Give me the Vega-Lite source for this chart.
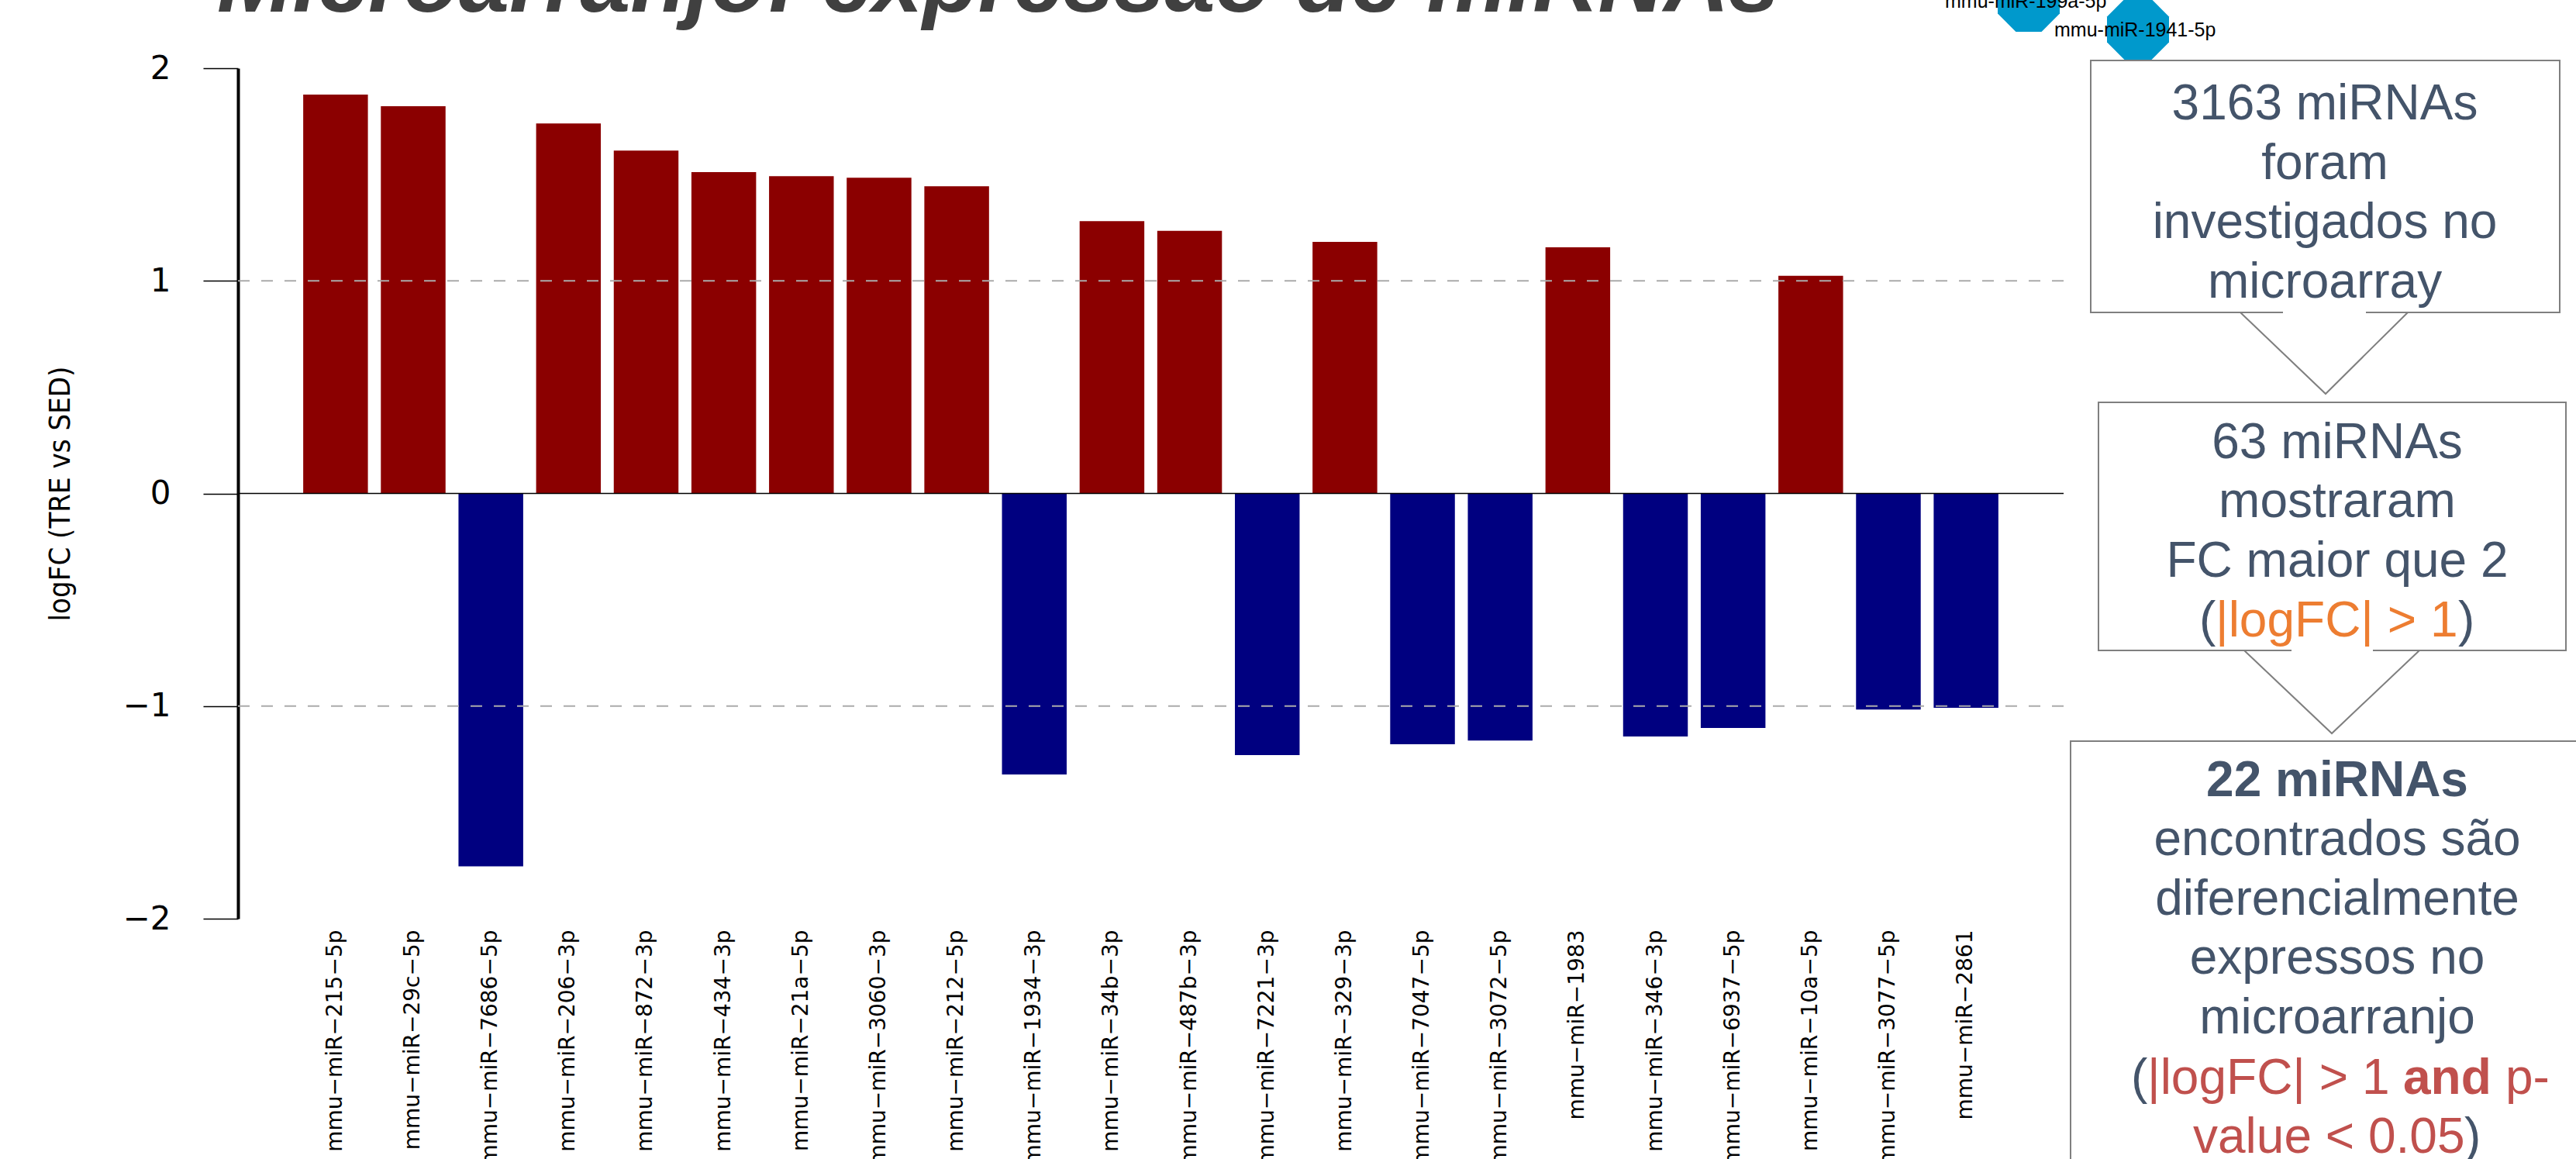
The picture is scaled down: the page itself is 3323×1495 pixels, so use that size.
{
  "$schema": "https://vega.github.io/schema/vega-lite/v6.json",
  "width": 2355,
  "height": 1097,
  "autosize": {"type": "none"},
  "padding": {"left": 307, "top": 88, "right": 661, "bottom": 310},
  "background": "white",
  "config": {"view": {"stroke": null}, "font": "Liberation Sans"},
  "datasets": {
    "mirna": [
      {"mirna": "mmu-miR-215-5p", "logFC": 1.876},
      {"mirna": "mmu-miR-29c-5p", "logFC": 1.821},
      {"mirna": "mmu-miR-7686-5p", "logFC": -1.754},
      {"mirna": "mmu-miR-206-3p", "logFC": 1.74},
      {"mirna": "mmu-miR-872-3p", "logFC": 1.613},
      {"mirna": "mmu-miR-434-3p", "logFC": 1.511},
      {"mirna": "mmu-miR-21a-5p", "logFC": 1.492},
      {"mirna": "mmu-miR-3060-3p", "logFC": 1.485},
      {"mirna": "mmu-miR-212-5p", "logFC": 1.445},
      {"mirna": "mmu-miR-1934-3p", "logFC": -1.322},
      {"mirna": "mmu-miR-34b-3p", "logFC": 1.281},
      {"mirna": "mmu-miR-487b-3p", "logFC": 1.235},
      {"mirna": "mmu-miR-7221-3p", "logFC": -1.231},
      {"mirna": "mmu-miR-329-3p", "logFC": 1.183},
      {"mirna": "mmu-miR-7047-5p", "logFC": -1.18},
      {"mirna": "mmu-miR-3072-5p", "logFC": -1.162},
      {"mirna": "mmu-miR-1983", "logFC": 1.158},
      {"mirna": "mmu-miR-346-3p", "logFC": -1.143},
      {"mirna": "mmu-miR-6937-5p", "logFC": -1.103},
      {"mirna": "mmu-miR-10a-5p", "logFC": 1.024},
      {"mirna": "mmu-miR-3077-5p", "logFC": -1.016},
      {"mirna": "mmu-miR-2861", "logFC": -1.008}
    ],
    "refs": [{"ref": -1}, {"ref": 1}],
    "zero": [{"ref": 0}],
    "nodes": [
      {"name": "mmu-miR-199a-5p", "x": 2617, "y": 1},
      {"name": "mmu-miR-1941-5p", "x": 2758, "y": 38}
    ],
    "boxes": [
      {"step": 1, "x": 2697, "x2": 3302, "y": 78, "y2": 403},
      {"step": 2, "x": 2707, "x2": 3310, "y": 519, "y2": 839},
      {"step": 3, "x": 2671, "x2": 3360, "y": 956, "y2": 1560}
    ],
    "gaps": [
      {"step": 1, "x": 2945, "x2": 3052, "y": 403},
      {"step": 2, "x": 2956, "x2": 3061, "y": 839}
    ],
    "pointers": [
      {"step": 1, "order": 1, "x": 2890, "y": 403},
      {"step": 1, "order": 2, "x": 3000, "y": 508},
      {"step": 1, "order": 3, "x": 3106, "y": 403},
      {"step": 2, "order": 1, "x": 2895, "y": 839},
      {"step": 2, "order": 2, "x": 3008, "y": 946},
      {"step": 2, "order": 3, "x": 3121, "y": 839}
    ],
    "heading": [
      {"text": "Microarranjo: expressão de miRNAs", "x": 280, "y": 15}
    ],
    "textlines": [
      {"text": "3163 miRNAs", "x": 2999, "y": 154, "tone": "main", "kind": "line", "emph": false},
      {"text": "foram", "x": 2999, "y": 231, "tone": "main", "kind": "line", "emph": false},
      {"text": "investigados no", "x": 2999, "y": 307, "tone": "main", "kind": "line", "emph": false},
      {"text": "microarray", "x": 2999, "y": 384, "tone": "main", "kind": "line", "emph": false},
      {"text": "63 miRNAs", "x": 3015, "y": 591, "tone": "main", "kind": "line", "emph": false},
      {"text": "mostraram", "x": 3015, "y": 667, "tone": "main", "kind": "line", "emph": false},
      {"text": "FC maior que 2", "x": 3015, "y": 744, "tone": "main", "kind": "line", "emph": false},
      {"text": "(", "x": 2837, "y": 821, "tone": "main", "kind": "segment", "emph": false},
      {"text": "|logFC| > 1", "x": 2858, "y": 821, "tone": "orange", "kind": "segment", "emph": false},
      {"text": ")", "x": 3171, "y": 821, "tone": "main", "kind": "segment", "emph": false},
      {"text": "22 miRNAs", "x": 3015, "y": 1027, "tone": "main", "kind": "line", "emph": true},
      {"text": "encontrados são", "x": 3015, "y": 1103, "tone": "main", "kind": "line", "emph": false},
      {"text": "diferencialmente", "x": 3015, "y": 1180, "tone": "main", "kind": "line", "emph": false},
      {"text": "expressos no", "x": 3015, "y": 1256, "tone": "main", "kind": "line", "emph": false},
      {"text": "microarranjo", "x": 3015, "y": 1333, "tone": "main", "kind": "line", "emph": false},
      {"text": "(", "x": 2749, "y": 1411, "tone": "main", "kind": "segment", "emph": false},
      {"text": "|logFC| > 1", "x": 2770, "y": 1411, "tone": "red", "kind": "segment", "emph": false},
      {"text": "and", "x": 3100, "y": 1411, "tone": "red", "kind": "segment", "emph": true},
      {"text": "p-", "x": 3232, "y": 1411, "tone": "red", "kind": "segment", "emph": false},
      {"text": "value < 0.05", "x": 2829, "y": 1487, "tone": "red", "kind": "segment", "emph": false},
      {"text": ")", "x": 3179, "y": 1487, "tone": "main", "kind": "segment", "emph": false}
    ]
  },
  "layer": [
    {
      "layer": [
        {
          "data": {"name": "mirna"},
          "mark": {"type": "bar"},
          "encoding": {
            "x": {
              "field": "mirna",
              "type": "nominal",
              "sort": null,
              "scale": {"paddingInner": 0.1667, "paddingOuter": 0.84},
              "axis": {
                "title": null,
                "orient": "bottom",
                "labelAngle": -90,
                "labelAlign": "right",
                "labelBaseline": "middle",
                "labelFont": "DejaVu Sans",
                "labelFontSize": 28,
                "labelColor": "black",
                "labelPadding": 14,
                "labelLimit": 2000,
                "labelOverlap": false,
                "ticks": false,
                "domain": false,
                "grid": false,
                "labelExpr": "replace(replace(replace(datum.label, '-', '−'), '-', '−'), '-', '−')"
              }
            },
            "y": {
              "field": "logFC",
              "type": "quantitative",
              "scale": {"domain": [-2, 2], "nice": false},
              "axis": {
                "values": [-2, -1, 0, 1, 2],
                "format": "d",
                "title": "logFC (TRE vs SED)",
                "grid": false,
                "domainColor": "black",
                "domainWidth": 4,
                "tickColor": "black",
                "tickWidth": 1.5,
                "tickSize": 45,
                "labelPadding": 42,
                "labelFont": "DejaVu Sans",
                "labelFontSize": 42,
                "labelColor": "black",
                "titleFont": "DejaVu Sans Condensed, Roboto, sans-serif",
                "titleFontSize": 38,
                "titleFontWeight": "normal",
                "titleColor": "black",
                "titleAngle": -90,
                "titleX": -218,
                "titleY": 548.5,
                "titleAlign": "center",
                "titleBaseline": "alphabetic"
              }
            },
            "color": {"condition": {"test": "datum.logFC > 0", "value": "#8B0000"}, "value": "#000080"}
          }
        },
        {
          "data": {"name": "refs"},
          "mark": {"type": "rule", "color": "#ABABAB", "strokeWidth": 2, "strokeDash": [15, 15]},
          "encoding": {"y": {"field": "ref", "type": "quantitative"}}
        },
        {
          "data": {"name": "zero"},
          "mark": {"type": "rule", "color": "black", "strokeWidth": 1.5},
          "encoding": {"y": {"field": "ref", "type": "quantitative"}}
        }
      ]
    },
    {
      "encoding": {
        "x": {"field": "x", "type": "quantitative", "scale": {"domain": [307, 2662], "nice": false, "zero": false}, "axis": null},
        "y": {"field": "y", "type": "quantitative", "scale": {"domain": [88, 1185], "reverse": true, "nice": false, "zero": false}, "axis": null}
      },
      "layer": [
        {
          "data": {"name": "nodes"},
          "mark": {"type": "point", "shape": "M-0.414,-1L0.414,-1L1,-0.414L1,0.414L0.414,1L-0.414,1L-1,0.414L-1,-0.414Z", "filled": true, "color": "#0099CC", "size": 6400, "opacity": 1, "strokeWidth": 0}
        },
        {
          "data": {"name": "nodes"},
          "mark": {"type": "text", "align": "left", "baseline": "alphabetic", "dx": -108, "dy": 9, "font": "Liberation Sans", "fontSize": 25, "color": "black"},
          "encoding": {"text": {"field": "name"}}
        },
        {
          "data": {"name": "boxes"},
          "mark": {"type": "rect", "fill": "white", "stroke": "#7F7F7F", "strokeWidth": 2},
          "encoding": {"x2": {"field": "x2"}, "y2": {"field": "y2"}}
        },
        {
          "data": {"name": "gaps"},
          "mark": {"type": "rule", "color": "white", "strokeWidth": 4},
          "encoding": {"x2": {"field": "x2"}}
        },
        {
          "data": {"name": "pointers"},
          "mark": {"type": "line", "color": "#7F7F7F", "strokeWidth": 2},
          "encoding": {"detail": {"field": "step", "type": "nominal"}, "order": {"field": "order", "type": "quantitative"}}
        },
        {
          "data": {"name": "heading"},
          "mark": {"type": "text", "align": "left", "baseline": "alphabetic", "font": "Liberation Sans", "fontSize": 117, "fontWeight": "bold", "fontStyle": "italic", "color": "#404040"},
          "encoding": {"text": {"field": "text"}}
        },
        {
          "data": {"name": "textlines"},
          "transform": [{"filter": "datum.kind == 'line' && !datum.emph"}],
          "mark": {"type": "text", "align": "center", "baseline": "alphabetic", "font": "Liberation Sans", "fontSize": 64},
          "encoding": {
            "text": {"field": "text"},
            "color": {"field": "tone", "type": "nominal", "scale": {"domain": ["main", "orange", "red"], "range": ["#44546A", "#ED7D31", "#C0504D"]}, "legend": null}
          }
        },
        {
          "data": {"name": "textlines"},
          "transform": [{"filter": "datum.kind == 'line' && datum.emph"}],
          "mark": {"type": "text", "align": "center", "baseline": "alphabetic", "font": "Liberation Sans", "fontSize": 64, "fontWeight": "bold"},
          "encoding": {
            "text": {"field": "text"},
            "color": {"field": "tone", "type": "nominal", "scale": {"domain": ["main", "orange", "red"], "range": ["#44546A", "#ED7D31", "#C0504D"]}, "legend": null}
          }
        },
        {
          "data": {"name": "textlines"},
          "transform": [{"filter": "datum.kind == 'segment' && !datum.emph"}],
          "mark": {"type": "text", "align": "left", "baseline": "alphabetic", "font": "Liberation Sans", "fontSize": 64},
          "encoding": {
            "text": {"field": "text"},
            "color": {"field": "tone", "type": "nominal", "scale": {"domain": ["main", "orange", "red"], "range": ["#44546A", "#ED7D31", "#C0504D"]}, "legend": null}
          }
        },
        {
          "data": {"name": "textlines"},
          "transform": [{"filter": "datum.kind == 'segment' && datum.emph"}],
          "mark": {"type": "text", "align": "left", "baseline": "alphabetic", "font": "Liberation Sans", "fontSize": 64, "fontWeight": "bold"},
          "encoding": {
            "text": {"field": "text"},
            "color": {"field": "tone", "type": "nominal", "scale": {"domain": ["main", "orange", "red"], "range": ["#44546A", "#ED7D31", "#C0504D"]}, "legend": null}
          }
        }
      ]
    }
  ],
  "resolve": {"scale": {"x": "independent", "y": "independent"}}
}
